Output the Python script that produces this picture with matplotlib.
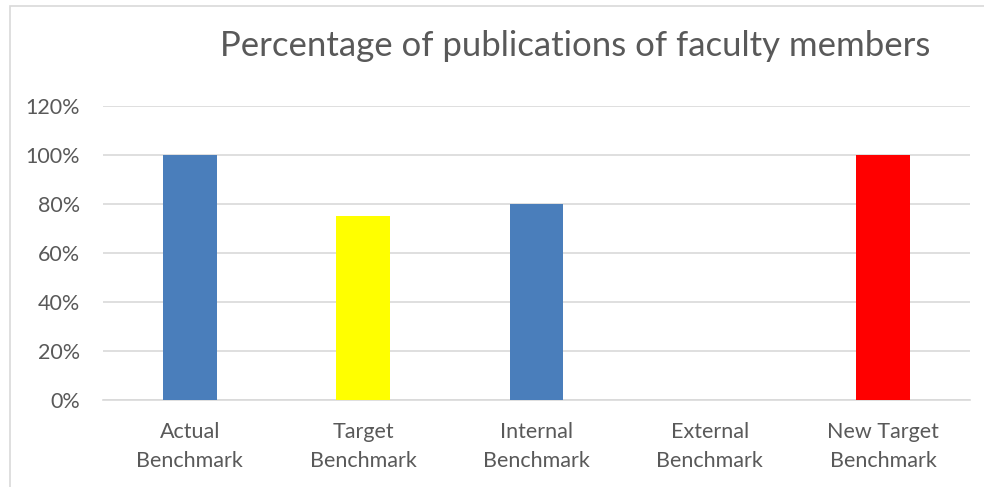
import matplotlib.pyplot as plt
from matplotlib.patches import Rectangle
from matplotlib.ticker import PercentFormatter

categories = ["Actual\nBenchmark", "Target\nBenchmark", "Internal\nBenchmark",
              "External\nBenchmark", "New Target\nBenchmark"]
values = [100, 75, 80, 0, 100]
colors = ["#4a7ebb", "#ffff00", "#4a7ebb", "#4a7ebb", "#ff0000"]
yticks = [0, 20, 40, 60, 80, 100, 120]

plt.rcParams['font.family'] = ['Lato', 'DejaVu Sans']

fig = plt.figure(figsize=(9.84, 4.87), dpi=100)
ax = fig.add_axes([0.1047, 0.1786, 0.8811, 0.6037])

x = range(len(categories))
ax.bar(x, values, width=0.31, color=colors, zorder=3)

ax.set_ylim(0, 120)
ax.set_xlim(-0.5, len(categories) - 0.5)
ax.set_yticks(yticks)
ax.yaxis.set_major_formatter(PercentFormatter(decimals=0))
ax.set_xticks(list(x))
ax.set_xticklabels(categories, linespacing=1.55)
ax.grid(axis='y', color='#d9d9d9', linewidth=1.2, zorder=0)
for s in ['top', 'right', 'left']:
    ax.spines[s].set_visible(False)
ax.spines['bottom'].set_color('#d9d9d9')
ax.spines['bottom'].set_linewidth(1.2)
ax.tick_params(axis='both', length=0, labelsize=15.5, colors='#595959')
ax.tick_params(axis='y', pad=16.5)
ax.tick_params(axis='x', pad=16)

fig.text(575 / 984, 1 - 46 / 487, "Percentage of publications of faculty members",
         ha='center', va='center', fontsize=25, color='#595959')

# chart frame, cut off at right and bottom
fig.patches.append(Rectangle((10 / 984, -0.1), 1.2, 1 - 6 / 487 + 0.1,
                             transform=fig.transFigure, fill=False,
                             edgecolor='#d9d9d9', linewidth=1.2))

fig.savefig("out.png", dpi=100)
